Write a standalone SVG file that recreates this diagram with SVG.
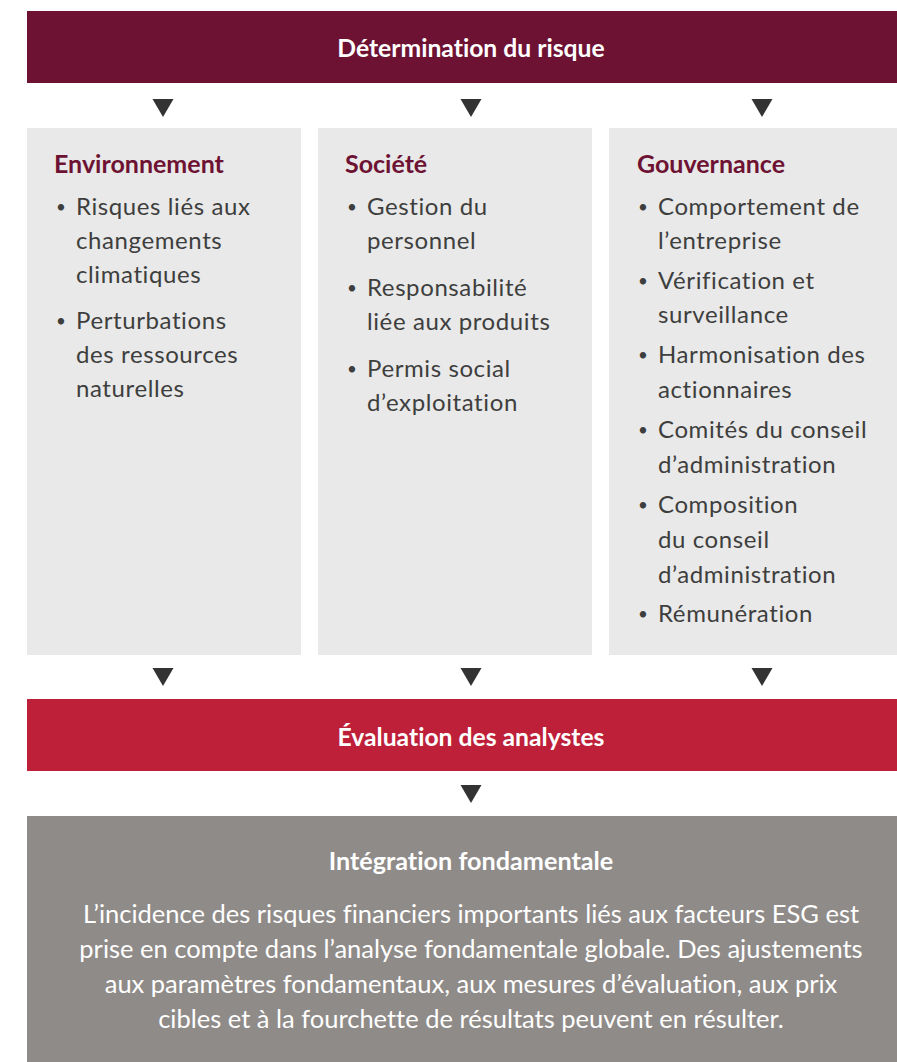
<svg xmlns="http://www.w3.org/2000/svg" width="897" height="1062" viewBox="0 0 897 1062">
<defs>
<style>
text{font-variant-ligatures:none;font-feature-settings:"liga" 0,"clig" 0,"dlig" 0,"calt" 0}
.bg{fill:#ffffff}
.col{fill:#E8E9E8}
.hd{font-family:Lato,"Liberation Sans",sans-serif;font-weight:700;font-size:24.7px;fill:#ffffff;text-anchor:middle}
.ttl{font-family:Lato,"Liberation Sans",sans-serif;font-weight:700;font-size:25px;fill:#6E1233}
.it{font-family:Lato,"Liberation Sans",sans-serif;font-size:24px;letter-spacing:0.6px;fill:#3E3E3E}
.bu{font-family:Lato,"Liberation Sans",sans-serif;font-size:17px;fill:#3E3E3E}
.par{font-family:Lato,"Liberation Sans",sans-serif;font-size:25.5px;fill:#ffffff;text-anchor:middle}
.arr{fill:#333333}
</style>
<path id="tri" d="M-10.5,0 L10.5,0 L0,18 Z"/>
</defs>
<rect class="bg" x="0" y="0" width="897" height="1062"/>
<g id="determination">
<rect x="27" y="11" width="870" height="72" fill="#6E1233"/>
<text class="hd" x="471" y="57">Détermination du risque</text>
</g>
<g id="environnement">
<rect class="col" x="27" y="128" width="274" height="527"/>
<text class="ttl" x="54" y="173">Environnement</text>
<text class="bu" x="56" y="213">•</text>
<text class="it" x="76" y="215">Risques liés aux</text>
<text class="it" x="76" y="249">changements</text>
<text class="it" x="76" y="283">climatiques</text>
<text class="bu" x="56" y="327">•</text>
<text class="it" x="76" y="329">Perturbations</text>
<text class="it" x="76" y="363">des ressources</text>
<text class="it" x="76" y="397">naturelles</text>
</g>
<g id="societe">
<rect class="col" x="318" y="128" width="274" height="527"/>
<text class="ttl" x="345" y="173">Société</text>
<text class="bu" x="347" y="213">•</text>
<text class="it" x="367" y="215">Gestion du</text>
<text class="it" x="367" y="249">personnel</text>
<text class="bu" x="347" y="294">•</text>
<text class="it" x="367" y="296">Responsabilité</text>
<text class="it" x="367" y="330">liée aux produits</text>
<text class="bu" x="347" y="375">•</text>
<text class="it" x="367" y="377">Permis social</text>
<text class="it" x="367" y="411">d’exploitation</text>
</g>
<g id="gouvernance">
<rect class="col" x="609" y="128" width="288" height="527"/>
<text class="ttl" x="637" y="173">Gouvernance</text>
<text class="bu" x="638" y="213">•</text>
<text class="it" x="658" y="215">Comportement de</text>
<text class="it" x="658" y="249">l’entreprise</text>
<text class="bu" x="638" y="287">•</text>
<text class="it" x="658" y="289">Vérification et</text>
<text class="it" x="658" y="323">surveillance</text>
<text class="bu" x="638" y="361">•</text>
<text class="it" x="658" y="363">Harmonisation des</text>
<text class="it" x="658" y="398">actionnaires</text>
<text class="bu" x="638" y="436">•</text>
<text class="it" x="658" y="438">Comités du conseil</text>
<text class="it" x="658" y="473">d’administration</text>
<text class="bu" x="638" y="511">•</text>
<text class="it" x="658" y="513">Composition</text>
<text class="it" x="658" y="548">du conseil</text>
<text class="it" x="658" y="583">d’administration</text>
<text class="bu" x="638" y="620">•</text>
<text class="it" x="658" y="622">Rémunération</text>
</g>
<g id="evaluation">
<rect x="27" y="699" width="870" height="72" fill="#BE2039"/>
<text class="hd" x="471" y="746">Évaluation des analystes</text>
</g>
<g id="integration">
<rect x="27" y="816" width="870" height="246" fill="#8F8B88"/>
<text class="hd" x="471" y="870" style="font-size:25.2px">Intégration fondamentale</text>
<text class="par" x="471" y="923">L’incidence des risques financiers importants liés aux facteurs ESG est</text>
<text class="par" x="471" y="958">prise en compte dans l’analyse fondamentale globale. Des ajustements</text>
<text class="par" x="471" y="993">aux paramètres fondamentaux, aux mesures d’évaluation, aux prix</text>
<text class="par" x="471" y="1028">cibles et à la fourchette de résultats peuvent en résulter.</text>
</g>
<g id="connectors">
<use href="#tri" class="arr" x="163" y="99"/>
<use href="#tri" class="arr" x="471" y="99"/>
<use href="#tri" class="arr" x="762" y="99"/>
<use href="#tri" class="arr" x="163" y="668"/>
<use href="#tri" class="arr" x="471" y="668"/>
<use href="#tri" class="arr" x="762" y="668"/>
<use href="#tri" class="arr" x="471" y="785"/>
</g>
</svg>
